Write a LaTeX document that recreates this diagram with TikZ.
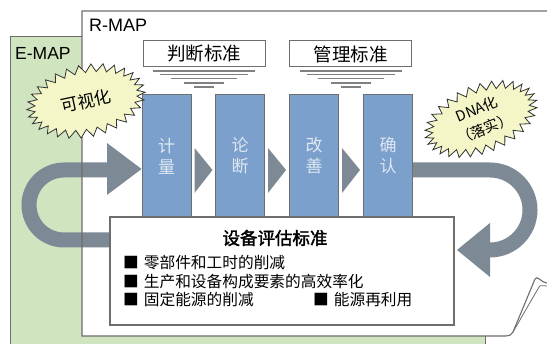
\documentclass[tikz,border=0pt]{standalone}
\usepackage{fontspec}
\setmainfont{Liberation Sans}
\newfontfamily\cjk{Noto Sans CJK SC}
\newfontfamily\cjkb[FakeBold=2]{Noto Sans CJK SC}
\usetikzlibrary{shapes.symbols}
\definecolor{greenbg}{RGB}{208,228,192}
\definecolor{bluebx}{RGB}{124,160,204}
\definecolor{arrowgray}{RGB}{125,138,150}
\definecolor{starfill}{RGB}{244,246,200}
\definecolor{frame}{RGB}{110,110,110}
\definecolor{boxtext}{RGB}{222,231,242}
\tikzset{
  bluebox/.style={draw=frame, line width=1pt, fill=bluebx, minimum width=49pt, minimum height=123pt, inner sep=0pt, text=boxtext, font=\cjk\fontsize{17}{21}\selectfont, align=center},
  headbox/.style={draw=frame, line width=1pt, fill=white, minimum width=122pt, minimum height=26pt, inner sep=0pt, font=\cjk\fontsize{18.5}{20}\selectfont},
  chev/.style={fill=arrowgray},
  stackline/.style={draw=gray, line width=1.1pt},
  burst/.style={starburst, starburst points=30, starburst point height=8pt, random starburst=0, draw=black!80, line width=0.8pt, fill=starfill, inner sep=0pt},
  bullet/.style={anchor=west, inner sep=0pt, font=\cjk\fontsize{15.7}{17}\selectfont},
  bigarrow/.style={draw=arrowgray, line width=15pt}
}
\begin{document}
\begin{tikzpicture}[x=1pt,y=-1pt]
\useasboundingbox (0,0) rectangle (547,344);
% E-MAP
\fill[greenbg] (10,37) rectangle (485,345);
\draw[frame, line width=1pt] (10,345) -- (10,37) -- (485,37) -- (485,345);
\node[anchor=west, inner sep=0pt, font=\fontsize{17.5}{20}\selectfont] (emap) at (15,53.5) {E-MAP};
% R-MAP sheet
\fill[white] (82,11) rectangle (548,336);
% header boxes
\node[headbox] (h1) at (204,54) {判断标准};
\node[headbox] (h2) at (350.5,54) {管理标准};
\foreach \c in {204,350.5}{
  \draw[stackline] (\c-51,71) -- (\c+51,71);
  \draw[stackline] (\c-44,74.5) -- (\c+44,74.5);
  \draw[stackline] (\c-33,78.5) -- (\c+33,78.5);
  \draw[stackline] (\c-20,83) -- (\c+20,83);
  \draw[stackline] (\c-10,87) -- (\c+10,87);
}
% blue boxes
\node[bluebox] (b1) at (166.5,156) {计\\量};
\node[bluebox] (b2) at (240,156) {论\\断};
\node[bluebox] (b3) at (314,156) {改\\善};
\node[bluebox] (b4) at (388,156) {确\\认};
% chevrons
\fill[chev] ([xshift=3pt]b1.east |- 0,148) -- ([xshift=21pt]b1.east |- 0,170) -- ([xshift=3pt]b1.east |- 0,193) -- cycle;
\fill[chev] ([xshift=3pt]b2.east |- 0,148) -- ([xshift=21pt]b2.east |- 0,170) -- ([xshift=3pt]b2.east |- 0,193) -- cycle;
\fill[chev] ([xshift=3pt]b3.east |- 0,148) -- ([xshift=21pt]b3.east |- 0,170) -- ([xshift=3pt]b3.east |- 0,193) -- cycle;
% big arrows
\draw[bigarrow] (112,240) -- (64,240) arc[start angle=90, end angle=270, radius=35] -- (108,170);
\fill[arrowgray] (107,143) -- (b1.west |- 0,169) -- (107,195) -- cycle;
\draw[bigarrow] (b4.east |- 0,170) -- (490,170) arc[start angle=-90, end angle=90, radius=40] -- (489,250);
\coordinate (tipR) at (457,250);
\fill[arrowgray] (490,223) -- (tipR) -- (490,277) -- cycle;
% R-MAP frame
\draw[frame, line width=1.1pt] (548,11) -- (82,11) -- (82,336) -- (506,336) to[out=0,in=-115] (513,332) -- (535,279) to[out=65,in=185] (547,283);
\draw[frame, line width=0.8pt] (513,332) -- (539,287) to[out=60,in=190] (547,286);
\node[anchor=west, inner sep=0pt, font=\fontsize{18}{20}\selectfont] (rmap) at (89,25) {R-MAP};
% evaluation box
\node[draw=frame, line width=1.3pt, fill=white, minimum width=344pt, minimum height=108pt, inner sep=0pt] (eval) at (282,271) {};
\node[inner sep=0pt, font=\cjkb\fontsize{17.5}{20}\selectfont] (title) at (275,238) {设备评估标准};
\node[bullet] (l1) at (123,263) {■\hspace{5pt}零部件和工时的削减};
\node[bullet] (l2) at (123,282) {■\hspace{5pt}生产和设备构成要素的高效率化};
\node[bullet] (l3) at (123,300) {■\hspace{5pt}固定能源的削减};
\node[bullet] (l4) at (313,300) {■\hspace{5pt}能源再利用};
% starbursts
\node[burst, minimum width=120pt, minimum height=72pt, rotate=12, font=\cjk\fontsize{17}{19}\selectfont] (s1) at (86,101) {可视化};
\node[burst, minimum width=118pt, minimum height=68pt, rotate=22, font=\cjk\fontsize{14.5}{21}\selectfont, align=center] (s2) at (481,119) {DNA化\\（落实）};
\end{tikzpicture}
\end{document}
